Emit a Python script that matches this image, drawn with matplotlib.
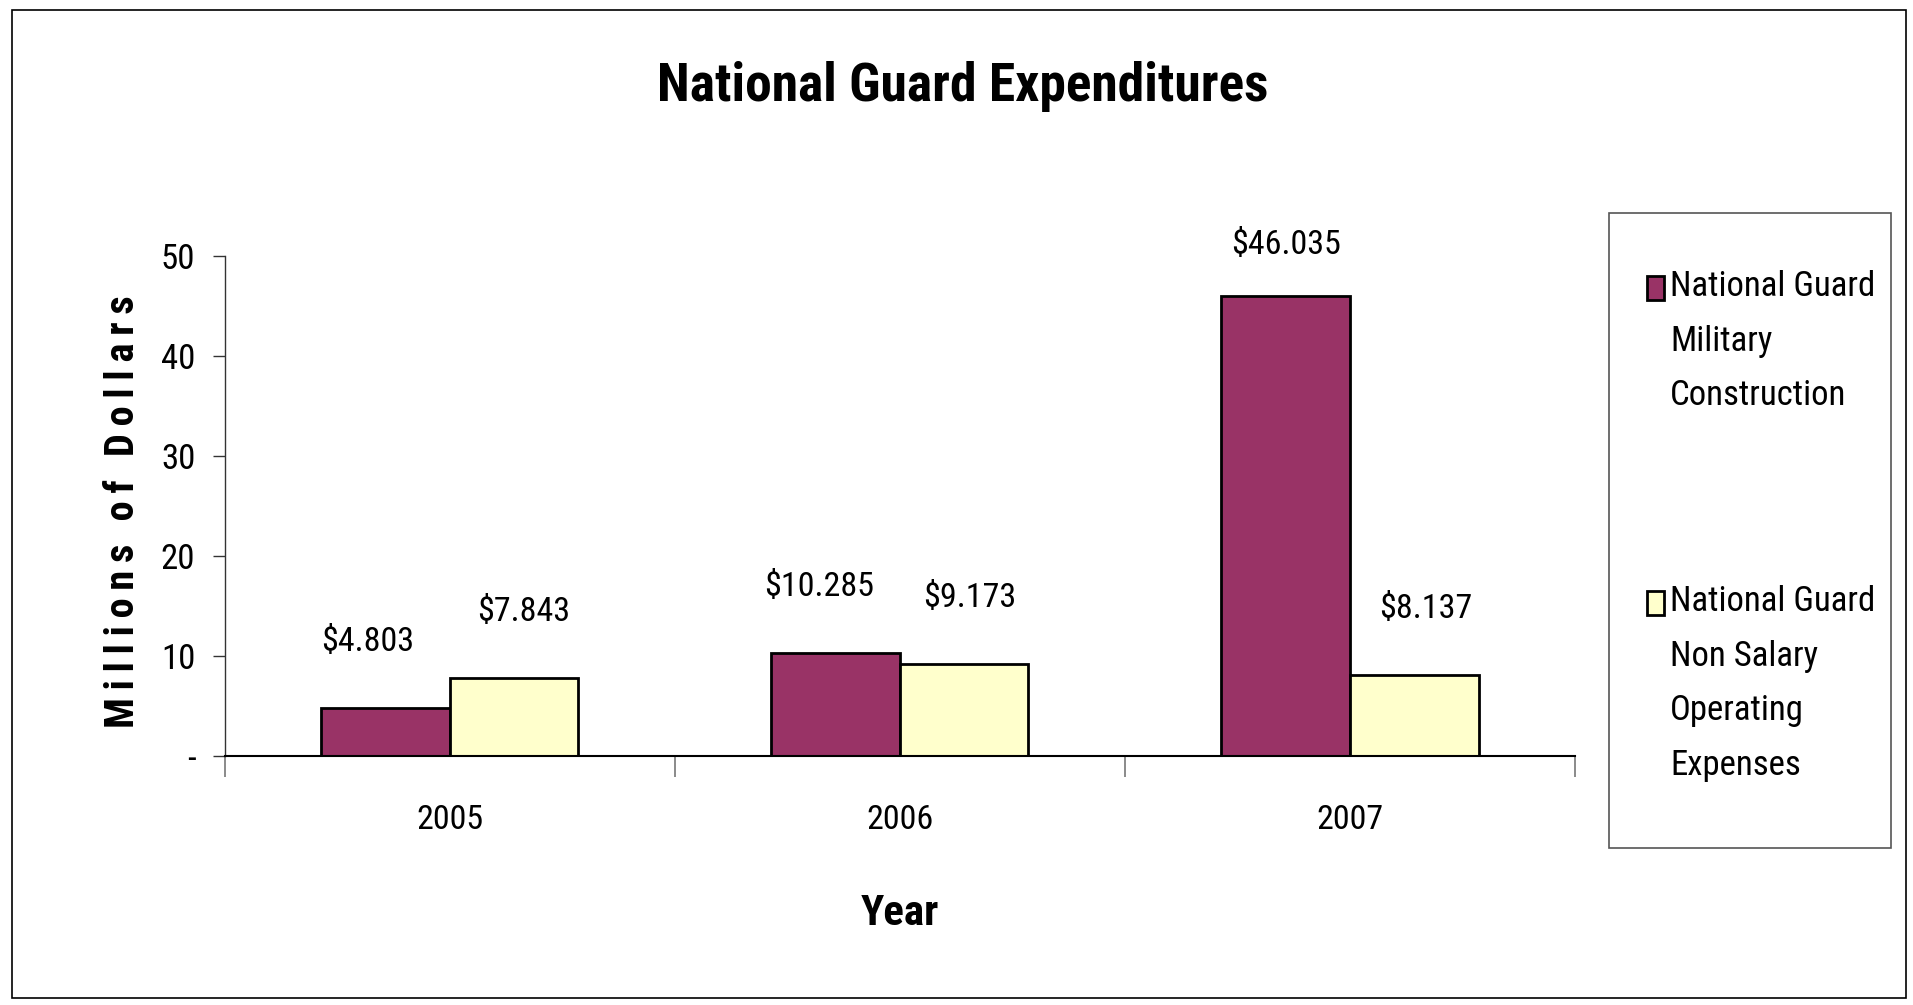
import os
import numpy as np
import matplotlib
matplotlib.use('Agg')
import matplotlib.pyplot as plt
from matplotlib.patches import Rectangle
from matplotlib import font_manager
from matplotlib.ft2font import FT2Font

# data
years = ['2005', '2006', '2007']
military_construction = [4.803, 10.285, 46.035]
non_salary_operating = [7.843, 9.173, 8.137]
series_labels = ['National Guard\nMilitary\nConstruction',
                 'National Guard\nNon Salary\nOperating\nExpenses']
yticks = [0, 10, 20, 30, 40, 50]
ytick_labels = ['-', '10', '20', '30', '40', '50']
ylabel = 'Millions of Dollars'


def find_font(keys):
    # look for a narrow / condensed face by file name, first match wins
    files = [f.fname for f in font_manager.fontManager.ttflist]
    for k in keys:
        for fn in files:
            if os.path.basename(fn).lower().startswith(k.lower()):
                return fn
    return None


reg_file = find_font(['LiberationSansNarrow-Regular', 'RobotoCondensed-Regular', 'Roboto_Condensed-Regular',
                      'NotoSans-Condensed.', 'NotoSans-ExtraCondensed.', 'NotoSans-SemiCondensed.',
                      'OpenSans_Condensed-Regular', 'OpenSans-CondensedRegular', 'DejaVuSansCondensed.'])
bold_file = find_font(['LiberationSansNarrow-Bold.', 'RobotoCondensed-Bold.', 'Roboto_Condensed-Bold.',
                       'NotoSans-CondensedBold.', 'NotoSans-ExtraCondensedBold.', 'NotoSans-SemiCondensedBold.',
                       'OpenSans_Condensed-Bold.', 'OpenSans-CondensedBold.', 'DejaVuSansCondensed-Bold.'])


def fp(size, bold=False):
    f = bold_file if bold else reg_file
    if f:
        return font_manager.FontProperties(fname=f, size=size)
    return font_manager.FontProperties(family='Liberation Sans', size=size * 0.85,
                                       weight='bold' if bold else 'normal')


# letter-spaced axis title, thin space if the bold face has one
sep = ' '
if bold_file and 0x2009 in FT2Font(bold_file).get_charmap():
    sep = '\u2009'
spaced_ylabel = (sep * 3).join(sep.join(word) for word in ylabel.split(' '))

maroon = '#993366'
cream = '#FFFFCC'

fig = plt.figure(figsize=(19.13, 10.05), dpi=100)
W, H = 1913, 1005

# outer chart border
fig.patches.append(Rectangle((12 / W, 1 - 998 / H), (1906 - 12) / W, (998 - 10) / H,
                             transform=fig.transFigure, fill=False, edgecolor='black', lw=1.2))

ax = fig.add_axes([224.5 / W, 1 - 756 / H, (1575 - 224.5) / W, (756 - 256) / H])

x = np.arange(len(years))
w = 1 / 3.5
ax.bar(x - w / 2, military_construction, w, color=maroon, edgecolor='black', lw=2)
ax.bar(x + w / 2, non_salary_operating, w, color=cream, edgecolor='black', lw=2)

# data labels as placed in the original (small sideways nudges, px)
nudges = [(-18, 10), (-16, 6), (0, 12)]
for i, (xi, a, b) in enumerate(zip(x, military_construction, non_salary_operating)):
    for xb, v, dx in [(xi - w / 2, a, nudges[i][0]), (xi + w / 2, b, nudges[i][1])]:
        ax.annotate(f'${v:.3f}', (xb, min(v + 6.6, 51.1)), xytext=(dx * 0.72, 0),
                    textcoords='offset points', ha='center', va='center',
                    fontproperties=fp(24.5), annotation_clip=False)

ax.set_xlim(-0.5, 2.5)
ax.set_ylim(0, 50)
for s in ['top', 'right']:
    ax.spines[s].set_visible(False)
ax.spines['bottom'].set_linewidth(1.5)
ax.spines['left'].set_linewidth(1.0)
ax.spines['left'].set_color('#333333')

ax.set_yticks(yticks)
ax.set_yticklabels(ytick_labels, fontproperties=fp(25))
ax.tick_params(axis='y', direction='out', length=9, width=1, color='#333333', pad=12)

ax.set_xticks([-0.5, 0.5, 1.5, 2.5])
ax.set_xticklabels([])
ax.tick_params(axis='x', direction='out', length=15, width=1.2, color='#777777')
for xi, yr in zip(x, years):
    ax.text(xi, -6.4, yr, ha='center', va='center', fontproperties=fp(24.5))

fig.text(963 / W, 1 - 87 / H, 'National Guard Expenditures', ha='center', va='center',
         fontproperties=fp(38.5, True))
fig.text(900 / W, 1 - 913 / H, 'Year', ha='center', va='center', fontproperties=fp(31, True))
yl = fig.text(123 / W, 1 - 512 / H, spaced_ylabel, ha='center', va='center',
              rotation=90, fontproperties=fp(36, True))
# fit the spaced label to the length it has in the original (~432 px)
r = fig.canvas.get_renderer()
ext = yl.get_window_extent(r)
yl.set_fontsize(36 * 432 / ext.height)

# legend box drawn by hand so the marker sits on the first text line
fig.patches.append(Rectangle((1609 / W, 1 - 848 / H), (1891 - 1609) / W, (848 - 213.5) / H,
                             transform=fig.transFigure, fill=False, edgecolor='#555555', lw=1.2))
for lbl, col, ytop in [(series_labels[0], maroon, 288), (series_labels[1], cream, 603)]:
    fig.patches.append(Rectangle((1647 / W, 1 - (ytop + 12) / H), 17 / W, 24 / H,
                                 transform=fig.transFigure, facecolor=col, edgecolor='black', lw=2))
    fig.text(1670 / W, 1 - (ytop - 18) / H, lbl, ha='left', va='top', fontproperties=fp(25),
             linespacing=1.83)

fig.savefig('out.png', dpi=100)
